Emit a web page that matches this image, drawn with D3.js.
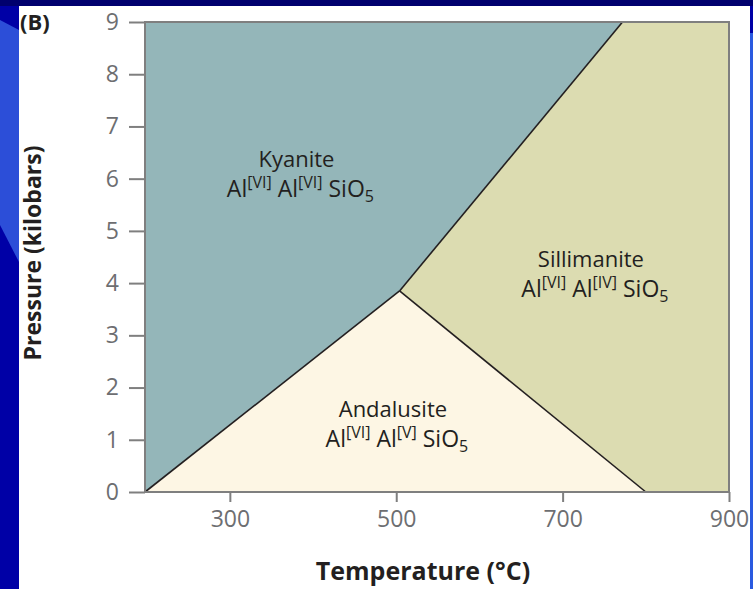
<!DOCTYPE html>
<html>
<head>
<meta charset="utf-8">
<script src="https://cdn.jsdelivr.net/npm/d3@7"></script>
<style>
  body { margin: 0; overflow: hidden; }
  svg { display: block; }
</style>
</head>
<body>
<svg id="drawing_region"></svg>
<script>
// data (temperature in °C, pressure in kbar)
const tempTicks = [300, 500, 700, 900];
const pressTicks = [0, 1, 2, 3, 4, 5, 6, 7, 8, 9];
const tempDomain = [198, 900];
const pressDomain = [0, 9];
const triplePoint = [504, 3.85];
const kyaniteAndalusite = [[198, 0], triplePoint];
const kyaniteSillimanite = [triplePoint, [772, 9]];
const andalusiteSillimanite = [triplePoint, [800, 0]];

const phases = [
  { name: 'Kyanite', site2: 'VI', t: 380, p: 6.22, color: '#94b6b9',
    poly: [[198, 0], triplePoint, [772, 9], [198, 9]] },
  { name: 'Andalusite', site2: 'V', t: 496, p: 1.44, color: '#fdf6e4',
    poly: [[198, 0], [800, 0], triplePoint] },
  { name: 'Sillimanite', site2: 'IV', t: 734, p: 4.31, color: '#dcdcb1',
    poly: [triplePoint, [800, 0], [900, 0], [900, 9], [772, 9]] }
];

const config = {
  width: 753,
  height: 589,
  margin: { top: 22, right: 24, bottom: 97, left: 145 }
};

const svg = d3.select('#drawing_region')
  .attr('width', config.width)
  .attr('height', config.height);

// slide background
svg.append('rect').attr('width', config.width).attr('height', config.height).attr('fill', '#0000a6');
svg.append('polygon').attr('points', '0,20 19,30 19,262 0,225').attr('fill', '#2c4ed8');
svg.append('rect').attr('width', config.width).attr('height', 6).attr('fill', '#00006e');
svg.append('rect').attr('x', 750).attr('y', 33).attr('width', 3).attr('height', 556).attr('fill', '#2a5ae0');
svg.append('rect').attr('x', 19).attr('y', 6).attr('width', 731).attr('height', 583).attr('fill', '#ffffff');

const inner_width = config.width - config.margin.left - config.margin.right;
const inner_height = config.height - config.margin.top - config.margin.bottom;

const xscale = d3.scaleLinear().domain(tempDomain).range([0, inner_width]);
const yscale = d3.scaleLinear().domain(pressDomain).range([inner_height, 0]);

const chart = svg.append('g')
  .attr('transform', `translate(${config.margin.left}, ${config.margin.top})`);

const line = d3.line().x(d => xscale(d[0])).y(d => yscale(d[1]));

// stability fields
chart.selectAll('path.field')
  .data(phases)
  .join('path')
  .attr('class', 'field')
  .attr('d', d => line(d.poly) + 'Z')
  .attr('fill', d => d.color);

// reaction boundaries
chart.selectAll('path.boundary')
  .data([kyaniteAndalusite, kyaniteSillimanite, andalusiteSillimanite])
  .join('path')
  .attr('class', 'boundary')
  .attr('d', line)
  .attr('fill', 'none')
  .attr('stroke', '#231f20')
  .attr('stroke-width', 1.6);

// frame
chart.append('rect')
  .attr('width', inner_width)
  .attr('height', inner_height)
  .attr('fill', 'none')
  .attr('stroke', '#7f7f7f')
  .attr('stroke-width', 2);

// axes
const xaxis = d3.axisBottom(xscale).tickValues(tempTicks).tickSize(10).tickSizeOuter(0).tickPadding(9);
const yaxis = d3.axisLeft(yscale).tickValues(pressTicks).tickSize(16).tickSizeOuter(0).tickPadding(10);

const xg = chart.append('g').attr('transform', `translate(0, ${inner_height})`).call(xaxis);
const yg = chart.append('g').call(yaxis);

[xg, yg].forEach(g => {
  g.select('.domain').remove();
  g.selectAll('line').attr('stroke', '#7f7f7f').attr('stroke-width', 2);
  g.selectAll('text')
    .attr('fill', '#6d6e71')
    .style('font-family', '"Open Sans", sans-serif')
    .style('font-size', '23px');
});

// field labels
const labels = chart.selectAll('g.label')
  .data(phases)
  .join('g')
  .attr('class', 'label')
  .attr('transform', d => `translate(${xscale(d.t)}, ${yscale(d.p)})`)
  .style('font-family', '"Open Sans", sans-serif')
  .attr('fill', '#231f20')
  .attr('text-anchor', 'middle');

labels.append('text')
  .attr('y', 0)
  .style('font-size', '22px')
  .text(d => d.name);

const formula = labels.append('text')
  .attr('x', 4)
  .attr('y', 30)
  .style('font-size', '23px');
formula.append('tspan').text('Al');
formula.append('tspan').attr('dy', -9).style('font-size', '16px').text('[VI]');
formula.append('tspan').attr('dy', 9).text(' Al');
formula.append('tspan').attr('dy', -9).style('font-size', '16px').text(d => `[${d.site2}]`);
formula.append('tspan').attr('dy', 9).text(' SiO');
formula.append('tspan').attr('dy', 5).style('font-size', '16px').text('5');

// axis titles
svg.append('text')
  .attr('x', 423)
  .attr('y', 580)
  .attr('text-anchor', 'middle')
  .style('font-family', '"Open Sans", sans-serif')
  .style('font-weight', 'bold')
  .style('font-size', '25px')
  .attr('fill', '#231f20')
  .text('Temperature (°C)');

svg.append('text')
  .attr('transform', 'translate(41, 253) rotate(-90)')
  .attr('text-anchor', 'middle')
  .style('font-family', '"Open Sans", sans-serif')
  .style('font-weight', 'bold')
  .style('font-size', '23px')
  .attr('fill', '#231f20')
  .text('Pressure (kilobars)');

svg.append('text')
  .attr('x', 20)
  .attr('y', 30)
  .style('font-family', '"Open Sans", sans-serif')
  .style('font-weight', 'bold')
  .style('font-size', '22px')
  .attr('fill', '#231f20')
  .text('(B)');
</script>
</body>
</html>
